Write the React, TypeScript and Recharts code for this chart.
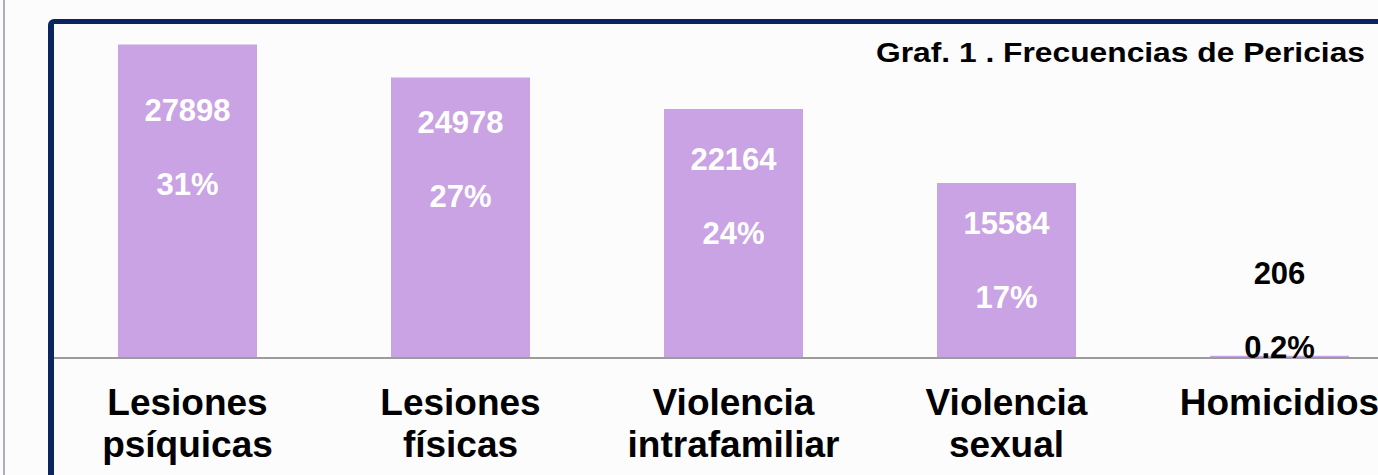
import React from "react";
import { BarChart, Bar, XAxis, YAxis, LabelList } from "recharts";

const categories = ["Lesiones\npsíquicas", "Lesiones\nfísicas", "Violencia\nintrafamiliar", "Violencia\nsexual", "Homicidios"];
const values = [27898, 24978, 22164, 15584, 206];
const percentLabels = ["31%", "27%", "24%", "17%", "0.2%"];
const titleText = "Graf. 1 . Frecuencias de Pericias";

// layout: distance of the count label centre from the bar top (px)
const labelOffsets = [65, 45, 50, 40, -83];

const data = categories.map((c, i) => ({ name: c, value: values[i], pct: percentLabels[i] }));

const FONT = "'Liberation Sans', Arial, sans-serif";
const BAR_COLOR = "#c9a3e3";
const NAVY = "#0b2462";

const CategoryTick = (props: any) => {
  const { x, y, payload } = props;
  const lines = String(payload.value).split("\n");
  return (
    <text x={x} y={y} textAnchor="middle" fontFamily={FONT} fontWeight="bold" fontSize={37} fill="#000">
      {lines.map((l, i) => (
        <tspan key={i} x={x} y={y + 57 + i * 42}>{l}</tspan>
      ))}
    </text>
  );
};

const BarLabels = (props: any) => {
  const { x, y, width, index } = props;
  const cx = x + width / 2;
  const base = y + labelOffsets[index] + 11;
  const inside = labelOffsets[index] > 0;
  const fill = inside ? "#ffffff" : "#000000";
  return (
    <g>
      <text x={cx} y={base} textAnchor="middle" fontFamily={FONT} fontWeight="bold" fontSize={31} fill={fill}>
        {values[index]}
      </text>
      <text x={cx} y={base + 74} textAnchor="middle" fontFamily={FONT} fontWeight="bold" fontSize={31} fill={fill}>
        {percentLabels[index]}
      </text>
    </g>
  );
};

export default function App() {
  return (
    <div style={{ position: "absolute", left: 0, top: 0, width: 1378, height: 475, overflow: "hidden", background: "#fcfcfd" }}>
      <div style={{ position: "absolute", left: 3, top: 0, width: 2, height: 475, background: "#a9b0bf" }} />
      <div style={{ position: "absolute", left: 0, top: 0 }}>
        <BarChart width={1416} height={475} data={data} margin={{ top: 21, right: 0, bottom: 0, left: 51 }} barSize={139}>
          <YAxis hide domain={[0, 30000]} type="number" />
          <XAxis
            dataKey="name"
            height={117}
            axisLine={{ stroke: "#9c9c9c", strokeWidth: 2 }}
            tickLine={false}
            tickSize={0}
            tickMargin={0}
            interval={0}
            tick={<CategoryTick />}
          />
          <Bar dataKey="value" fill={BAR_COLOR} isAnimationActive={false}>
            <LabelList dataKey="value" content={<BarLabels />} />
          </Bar>
        </BarChart>
      </div>
      <svg style={{ position: "absolute", left: 0, top: 0 }} width={1378} height={475}>
        <text x={876} y={62} textAnchor="start" fontFamily={FONT} fontWeight="bold" fontSize={28} fill="#000" textLength={489} lengthAdjust="spacingAndGlyphs">
          {titleText}
        </text>
      </svg>
      <div
        style={{
          position: "absolute",
          left: 48,
          top: 19,
          width: 2000,
          height: 1000,
          borderLeft: `6px solid ${NAVY}`,
          borderTop: `5px solid ${NAVY}`,
          borderTopLeftRadius: 6,
          pointerEvents: "none",
        }}
      />
    </div>
  );
}
